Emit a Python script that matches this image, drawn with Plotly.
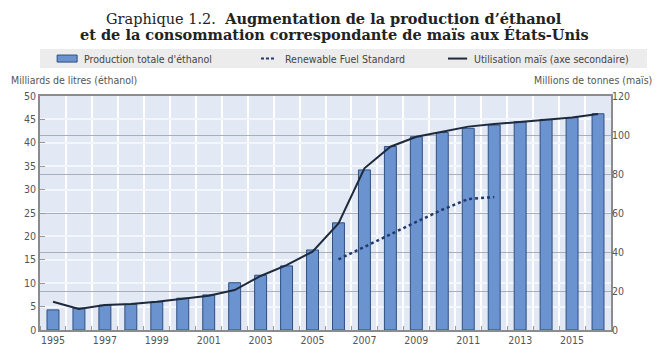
import plotly.graph_objects as go

years = list(range(1995, 2017))
ethanol = [4.3, 4.7, 5.3, 5.5, 6.0, 6.8, 7.5, 10.1, 11.7, 13.7, 17.1, 22.9,
           34.2, 39.2, 41.3, 42.2, 43.1, 43.8, 44.5, 45.0, 45.4, 46.2]
corn = [14.5, 10.8, 12.8, 13.3, 14.5, 16.2, 17.6, 20.5, 27.7, 33.3, 40.2, 54.6,
        82.9, 94.0, 99.1, 101.7, 104.3, 105.6, 106.8, 108.0, 109.0, 110.8]
rfs_years = [2006, 2007, 2008, 2009, 2010, 2011, 2012]
rfs = [15.1, 17.8, 20.4, 23.1, 25.7, 28.0, 28.4]
xtick_vals = [1995, 1997, 1999, 2001, 2003, 2005, 2007, 2009, 2011, 2013, 2015]
series_names = ["Production totale d'éthanol", "Renewable Fuel Standard",
                "Utilisation maïs (axe secondaire)"]

sans = "DejaVu Sans Condensed, Liberation Sans Narrow, Arial Narrow, sans-serif"
serif = "DejaVu Serif, Liberation Serif, serif"

bar_color = "#6b93cf"
bar_edge = "#2f4f80"
rfs_color = "#1f3a6e"
corn_color = "#1e2a3c"

fig = go.Figure()
fig.add_trace(go.Bar(
    x=years, y=ethanol, name=series_names[0],
    width=0.46, marker=dict(color=bar_color, line=dict(color=bar_edge, width=1)),
))
fig.add_trace(go.Scatter(
    x=rfs_years, y=rfs, name=series_names[1], mode="lines",
    line=dict(color=rfs_color, width=2.5, dash="3px,3px"),
))
fig.add_trace(go.Scatter(
    x=years, y=corn, name=series_names[2], mode="lines",
    yaxis="y2", line=dict(color=corn_color, width=2),
))

# manual legend (paper coordinates)
leg_y = 1.160
shapes = [
    dict(type="rect", xref="paper", yref="paper", x0=0.0, x1=1.063,
         y0=1.12, y1=1.201, fillcolor="#ececec", line=dict(width=0), layer="below"),
    dict(type="rect", xref="paper", yref="paper", x0=0.030, x1=0.065,
         y0=1.145, y1=1.175, fillcolor=bar_color, line=dict(color=bar_edge, width=1)),
    dict(type="line", xref="paper", yref="paper", x0=0.387, x1=0.412,
         y0=leg_y, y1=leg_y, line=dict(color=rfs_color, width=2, dash="3px,2px")),
    dict(type="line", xref="paper", yref="paper", x0=0.7145, x1=0.748,
         y0=leg_y, y1=leg_y, line=dict(color=corn_color, width=2)),
]
leg_font = dict(family=sans, size=10.5, color="#444")
annotations = [
    dict(text=series_names[0], xref="paper", yref="paper", x=0.0736, y=leg_y,
         xanchor="left", yanchor="middle", showarrow=False, font=leg_font),
    dict(text=series_names[1], xref="paper", yref="paper", x=0.4256, y=leg_y,
         xanchor="left", yanchor="middle", showarrow=False, font=leg_font),
    dict(text=series_names[2], xref="paper", yref="paper", x=0.7566, y=leg_y,
         xanchor="left", yanchor="middle", showarrow=False, font=leg_font),
    dict(text="Graphique 1.2.  <b>Augmentation de la production d’éthanol</b>",
         xref="paper", yref="paper", x=0.515, y=1.333, xanchor="center", yanchor="middle",
         showarrow=False, font=dict(family=serif, size=14.5, color="#222")),
    dict(text="<b>et de la consommation correspondante de maïs aux États-Unis</b>",
         xref="paper", yref="paper", x=0.515, y=1.262, xanchor="center", yanchor="middle",
         showarrow=False, font=dict(family=serif, size=14.5, color="#222")),
    dict(text="Milliards de litres (éthanol)", xref="paper", yref="paper",
         x=-0.055, y=1.035, xanchor="left", yanchor="bottom", showarrow=False,
         font=dict(family=sans, size=10.5, color="#555")),
    dict(text="Millions de tonnes (maïs)", xref="paper", yref="paper",
         x=1.075, y=1.035, xanchor="right", yanchor="bottom", showarrow=False,
         font=dict(family=sans, size=10.5, color="#555")),
]

axis_line = "#8c8c8c"
# the page shows the figure offset by 8px, so the figure is 8px smaller and margins shifted
fig.update_layout(
    width=653, height=353,
    margin=dict(l=32, r=50, t=88, b=31),
    paper_bgcolor="white",
    plot_bgcolor="#e2e8f4",
    showlegend=False,
    font=dict(family=sans, size=10, color="#555"),
    xaxis=dict(
        range=[1994.5, 2016.5], tickvals=xtick_vals, ticks="", showgrid=False,
        showline=True, linecolor=axis_line, linewidth=1.5, mirror=True,
        tickfont=dict(family=sans, size=10.5, color="#555"),
        minor=dict(tick0=1994.5, dtick=1, showgrid=True, gridcolor="white",
                   gridwidth=1.5, ticks="inside", ticklen=4, tickcolor="#999"),
        zeroline=False,
    ),
    yaxis=dict(
        range=[0, 50], dtick=5, showgrid=True, gridcolor="#f3f6fb", gridwidth=1.5,
        ticks="inside", ticklen=5, tickcolor="#999",
        showline=True, linecolor=axis_line, linewidth=1.5, mirror=True,
        zeroline=False, tickfont=dict(family=sans, size=10.5, color="#555"),
    ),
    yaxis2=dict(
        range=[0, 120], dtick=20, overlaying="y", side="right",
        showgrid=True, gridcolor="#a9aeb8", gridwidth=1,
        ticks="", zeroline=False, tickfont=dict(family=sans, size=10.5, color="#555"),
    ),
    shapes=shapes,
    annotations=annotations,
)

fig.write_html("out.html")
